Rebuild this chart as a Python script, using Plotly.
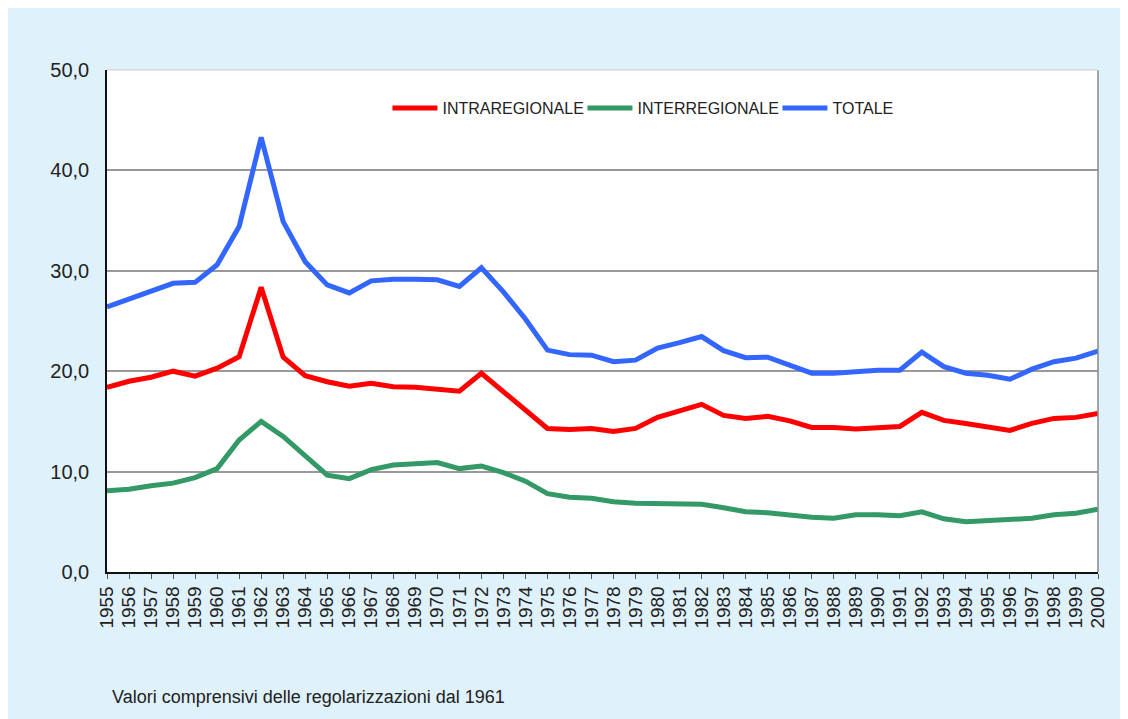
import plotly.graph_objects as go

years = list(range(1955, 2001))

intraregionale = [18.4, 19.0, 19.4, 20.0, 19.5, 20.3, 21.45, 28.35, 21.4, 19.55,
                  18.95, 18.5, 18.8, 18.45, 18.4, 18.2, 18.0, 19.8, 17.95, 16.1,
                  14.3, 14.2, 14.3, 14.0, 14.3, 15.4, 16.0, 16.7, 15.6, 15.3,
                  15.5, 15.05, 14.4, 14.4, 14.25, 14.4, 14.5, 15.9, 15.1, 14.8,
                  14.5, 14.1, 14.8, 15.3, 15.4, 15.8]

interregionale = [8.1, 8.25, 8.6, 8.85, 9.4, 10.3, 13.15, 15.0, 13.5, 11.55,
                  9.65, 9.3, 10.2, 10.65, 10.75, 10.9, 10.3, 10.55, 9.9, 9.05,
                  7.8, 7.45, 7.35, 7.0, 6.85, 6.85, 6.8, 6.75, 6.4, 6.0,
                  5.9, 5.65, 5.45, 5.35, 5.7, 5.7, 5.6, 6.0, 5.3, 5.0,
                  5.1, 5.25, 5.35, 5.7, 5.85, 6.25]

totale = [26.4, 27.2, 27.9, 28.75, 28.85, 30.6, 34.4, 43.3, 34.9, 30.9,
          28.6, 27.8, 29.0, 29.15, 29.15, 29.1, 28.45, 30.3, 27.9, 25.2,
          22.1, 21.65, 21.6, 20.95, 21.1, 22.3, 22.85, 23.45, 22.05, 21.35,
          21.4, 20.6, 19.8, 19.8, 19.95, 20.1, 20.1, 21.9, 20.45, 19.8,
          19.6, 19.2, 20.2, 20.95, 21.3, 22.0]

series_names = ["INTRAREGIONALE", "INTERREGIONALE", "TOTALE"]
series_colors = ["#ff0000", "#339966", "#3366ff"]
y_ticks = [0, 10, 20, 30, 40, 50]
footnote = "Valori comprensivi delle regolarizzazioni dal 1961"

BG = "#dff1fb"
FONT = "Liberation Sans, Arial, sans-serif"

fig = go.Figure()
for name, vals, col in zip(series_names, [intraregionale, interregionale, totale], series_colors):
    fig.add_trace(go.Scatter(x=years, y=vals, mode="lines", name=name,
                             line=dict(color=col, width=5)))

fig.update_layout(
    width=1120, height=711,
    margin=dict(l=99, r=30, t=62, b=147),
    paper_bgcolor=BG, plot_bgcolor="white",
    separators=",.",
    font=dict(family=FONT, color="#222222"),
    showlegend=True,
    legend=dict(orientation="h", x=0.283, y=0.924, xanchor="left", yanchor="middle",
                bgcolor="rgba(0,0,0,0)", entrywidth=135, itemwidth=45,
                font=dict(family=FONT, size=16, color="#222222")),
    xaxis=dict(range=[1955, 2000], tickmode="array", tickvals=years,
               ticktext=[str(y) for y in years], tickangle=-90,
               tickfont=dict(size=19, color="#222222"),
               showgrid=False, zeroline=False, showline=True, linecolor="#111111", linewidth=1.5,
               ticks="outside", ticklen=5, tickcolor="#555555", tickwidth=1),
    yaxis=dict(range=[0, 50], tickmode="array", tickvals=y_ticks, tickformat=".1f",
               tickfont=dict(size=20, color="#222222"), ticks="", ticklabelstandoff=12,
               showgrid=True, gridcolor="#999999", gridwidth=1.5, zeroline=False,
               showline=True, linecolor="#111111", linewidth=1.5),
    shapes=[
        dict(type="line", xref="paper", yref="paper", x0=1, x1=1, y0=0, y1=1,
             line=dict(color="#888888", width=1.5)),
        dict(type="line", xref="paper", yref="paper", x0=0, x1=1, y0=1, y1=1,
             line=dict(color="#cccccc", width=1)),
    ],
    annotations=[
        dict(text=footnote, xref="paper", yref="paper", x=(110 - 107) / 991, y=(572 - 697) / 502,
             xanchor="left", yanchor="middle", showarrow=False,
             font=dict(size=18, color="#222222", family=FONT)),
    ],
)

fig.write_html("out.html")
